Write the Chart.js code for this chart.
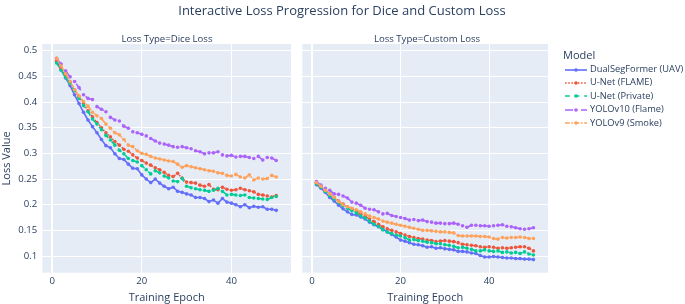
<!DOCTYPE html>
<html>
<head>
<meta charset="utf-8">
<script src="https://cdn.jsdelivr.net/npm/chart.js@4.4.1/dist/chart.umd.min.js"></script>
<style>
  body { margin: 0; background: #fff; font-family: "Open Sans", sans-serif; color: #2a3f5f; }
  #wrap { position: relative; width: 685px; height: 304px; overflow: hidden; }
  canvas { position: absolute; top: 0; }
  .t { position: absolute; white-space: nowrap; transform: translate(-50%, -50%); line-height: 1; }
  .leg { position: absolute; white-space: nowrap; font-size: 9.3px; line-height: 1; }
  .leg svg { vertical-align: middle; margin-right: 2px; }
</style>
</head>
<body>
<div id="wrap">
  <canvas id="dice" width="295" height="304" style="left:0"></canvas>
  <canvas id="custom" width="256" height="304" style="left:296px"></canvas>
  <div class="t" style="left:342px;top:10px;font-size:13px">Interactive Loss Progression for Dice and Custom Loss</div>
  <div class="t" style="left:167px;top:38.5px;font-size:9.6px">Loss Type=Dice Loss</div>
  <div class="t" style="left:427px;top:38.5px;font-size:9.6px">Loss Type=Custom Loss</div>
  <div id="legend"></div>
</div>
<script>
// epochs and model names
const epochs = [1,2,3,4,5,6,7,8,9,10,11,12,13,14,15,16,17,18,19,20,21,22,23,24,25,
  26,27,28,29,30,31,32,33,34,35,36,37,38,39,40,41,42,43,44,45,46,47,48,49,50];
const models = ['DualSegFormer (UAV)', 'U-Net (FLAME)', 'U-Net (Private)', 'YOLOv10 (Flame)', 'YOLOv9 (Smoke)'];
const colors = ['#636efa', '#EF553B', '#00cc96', '#ab63fa', '#FFA15A'];
const dashes = [[], [1.6, 1.6], [4.8, 4.8], [8, 8], [4.8, 1.6, 1.6, 1.6]];

const yTicks = [0.1, 0.15, 0.2, 0.25, 0.3, 0.35, 0.4, 0.45, 0.5];
const xTicks = [0, 20, 40];

// Dice loss
const diceDualSeg = [0.478,0.463,0.447,0.432,0.414,0.397,0.380,0.365,0.352,0.340,0.327,0.315,0.311,0.299,0.290,
  0.288,0.279,0.271,0.270,0.258,0.250,0.243,0.250,0.242,0.236,0.231,0.234,0.226,0.224,0.221,
  0.219,0.214,0.214,0.212,0.206,0.209,0.203,0.212,0.205,0.203,0.200,0.196,0.200,0.194,0.197,
  0.195,0.196,0.191,0.191,0.189];
const diceUnetFlame = [0.480,0.466,0.452,0.439,0.424,0.410,0.397,0.383,0.371,0.360,0.350,0.340,0.332,0.323,0.316,
  0.308,0.304,0.297,0.291,0.286,0.281,0.277,0.272,0.268,0.263,0.257,0.255,0.261,0.252,0.244,
  0.243,0.242,0.238,0.236,0.239,0.230,0.229,0.234,0.230,0.228,0.229,0.232,0.229,0.227,0.225,
  0.220,0.219,0.217,0.215,0.218];
const diceUnetPrivate = [0.476,0.462,0.448,0.436,0.422,0.407,0.393,0.381,0.367,0.357,0.346,0.335,0.326,0.316,0.306,
  0.299,0.290,0.286,0.283,0.276,0.268,0.260,0.266,0.262,0.256,0.252,0.246,0.245,0.251,0.236,
  0.233,0.231,0.229,0.228,0.226,0.228,0.232,0.226,0.219,0.220,0.219,0.218,0.219,0.214,0.213,
  0.212,0.211,0.210,0.214,0.216];
const diceYolo10 = [0.485,0.474,0.461,0.449,0.440,0.428,0.414,0.407,0.405,0.391,0.386,0.381,0.370,0.365,0.363,
  0.353,0.349,0.342,0.340,0.337,0.334,0.329,0.324,0.320,0.318,0.316,0.313,0.312,0.313,0.311,
  0.309,0.305,0.303,0.299,0.301,0.301,0.303,0.297,0.295,0.296,0.293,0.294,0.294,0.292,0.290,
  0.294,0.287,0.292,0.291,0.286];
const diceYolo9 = [0.485,0.470,0.455,0.440,0.424,0.412,0.401,0.392,0.380,0.373,0.368,0.357,0.349,0.340,0.336,
  0.327,0.316,0.313,0.305,0.300,0.298,0.294,0.291,0.289,0.287,0.285,0.284,0.279,0.273,0.276,
  0.274,0.272,0.270,0.268,0.266,0.265,0.262,0.261,0.257,0.256,0.259,0.254,0.252,0.258,0.248,
  0.252,0.250,0.251,0.257,0.254];

// Custom loss
const customDualSeg = [0.239,0.232,0.224,0.214,0.207,0.199,0.192,0.186,0.181,0.180,0.176,0.172,0.166,0.161,0.157,
  0.152,0.147,0.142,0.137,0.131,0.129,0.126,0.123,0.122,0.120,0.117,0.118,0.115,0.116,0.114,
  0.113,0.112,0.109,0.109,0.108,0.106,0.105,0.101,0.098,0.098,0.099,0.098,0.097,0.096,0.096,
  0.095,0.095,0.094,0.094,0.093];
const customUnetFlame = [0.242,0.235,0.228,0.221,0.214,0.207,0.201,0.196,0.192,0.187,0.182,0.177,0.172,0.167,0.162,
  0.157,0.153,0.150,0.147,0.144,0.141,0.138,0.136,0.134,0.133,0.131,0.130,0.128,0.129,0.130,
  0.129,0.128,0.126,0.123,0.122,0.121,0.120,0.118,0.117,0.118,0.117,0.115,0.116,0.115,0.116,
  0.117,0.118,0.118,0.115,0.110];
const customUnetPrivate = [0.241,0.234,0.226,0.218,0.211,0.204,0.198,0.193,0.188,0.184,0.178,0.174,0.168,0.162,0.158,
  0.151,0.147,0.144,0.141,0.139,0.136,0.131,0.132,0.130,0.129,0.127,0.126,0.124,0.124,0.122,
  0.121,0.119,0.116,0.117,0.115,0.113,0.110,0.110,0.112,0.110,0.109,0.110,0.107,0.108,0.106,
  0.107,0.105,0.108,0.104,0.102];
const customYolo10 = [0.245,0.238,0.232,0.228,0.221,0.220,0.217,0.213,0.205,0.203,0.199,0.193,0.191,0.190,0.186,
  0.182,0.183,0.179,0.177,0.175,0.173,0.170,0.171,0.169,0.170,0.167,0.166,0.164,0.164,0.163,
  0.163,0.164,0.162,0.159,0.156,0.160,0.160,0.159,0.159,0.158,0.159,0.160,0.161,0.158,0.157,
  0.155,0.153,0.152,0.153,0.155];
const customYolo9 = [0.243,0.236,0.228,0.221,0.214,0.206,0.200,0.196,0.193,0.190,0.186,0.182,0.178,0.175,0.172,
  0.168,0.166,0.164,0.162,0.160,0.158,0.156,0.154,0.152,0.150,0.150,0.149,0.148,0.147,0.147,
  0.146,0.145,0.140,0.139,0.139,0.139,0.139,0.138,0.138,0.137,0.134,0.133,0.136,0.135,0.136,
  0.136,0.137,0.136,0.134,0.134];

const textColor = '#2a3f5f';
const font = 'Open Sans';

// plotly-ish plot background
const plotBg = {
  id: 'plotBg',
  beforeDraw(chart) {
    const { ctx, chartArea: a } = chart;
    ctx.save();
    ctx.fillStyle = '#E5ECF6';
    ctx.fillRect(a.left, a.top, a.width, a.height);
    ctx.restore();
  }
};

function makeDatasets(series) {
  return series.map((vals, i) => ({
    label: models[i],
    data: vals.map((v, j) => ({ x: epochs[j], y: v })),
    borderColor: colors[i],
    backgroundColor: colors[i],
    borderWidth: 1.6,
    borderDash: dashes[i],
    pointRadius: 1.8,
    pointBorderWidth: 0,
    pointBackgroundColor: colors[i],
    tension: 0,
    order: 5 - i
  }));
}

function makeChart(id, series, withYLabels, yWidth) {
  return new Chart(document.getElementById(id), {
    type: 'line',
    data: { datasets: makeDatasets(series) },
    options: {
      responsive: false,
      animation: false,
      layout: { padding: { top: 44, right: 0, left: 0, bottom: 0 } },
      plugins: { legend: { display: false }, tooltip: { enabled: false }, title: { display: false } },
      scales: {
        x: {
          type: 'linear',
          min: -2.2,
          max: 53.3,
          afterBuildTicks: s => { s.ticks = xTicks.map(v => ({ value: v })); },
          afterFit: s => { s.height = 31.3; },
          grid: { color: '#fff', lineWidth: c => (c.tick && c.tick.value === 0 ? 2 : 1), drawTicks: false },
          border: { display: false },
          ticks: { color: textColor, font: { family: font, size: 9.6 }, padding: 3, maxRotation: 0 },
          title: { display: true, text: 'Training Epoch', color: textColor, font: { family: font, size: 11 }, padding: 0 }
        },
        y: {
          min: 0.0675,
          max: 0.513,
          afterBuildTicks: s => { s.ticks = yTicks.map(v => ({ value: v })); },
          afterFit: s => { s.width = yWidth; },
          grid: { color: '#fff', lineWidth: 1, drawTicks: false },
          border: { display: false },
          ticks: {
            display: withYLabels,
            color: textColor,
            font: { family: font, size: 9.6 },
            padding: 5,
            callback: v => String(+v.toFixed(2))
          },
          title: { display: withYLabels, text: 'Loss Value', color: textColor, font: { family: font, size: 11 }, padding: 0 }
        }
      }
    },
    plugins: [plotBg]
  });
}

makeChart('dice', [diceDualSeg, diceUnetFlame, diceUnetPrivate, diceYolo10, diceYolo9], true, 42.3);
makeChart('custom', [customDualSeg, customUnetFlame, customUnetPrivate, customYolo10, customYolo9], false, 6.3);

// legend
const legend = document.getElementById('legend');
let html = '<div class="leg" style="left:563px;top:49px;font-size:11px">Model</div>';
models.forEach((m, i) => {
  const top = 69 + i * 13.4 - 5;
  html += '<div class="leg" style="left:564px;top:' + top + 'px">' +
    '<svg width="24" height="10"><line x1="1" y1="5" x2="23" y2="5" stroke="' + colors[i] +
    '" stroke-width="1.6" stroke-dasharray="' + (dashes[i].length ? dashes[i].join(',') : 'none') + '"/>' +
    '<circle cx="12" cy="5" r="1.8" fill="' + colors[i] + '"/></svg>' + m + '</div>';
});
legend.innerHTML = html;
</script>
</body>
</html>
